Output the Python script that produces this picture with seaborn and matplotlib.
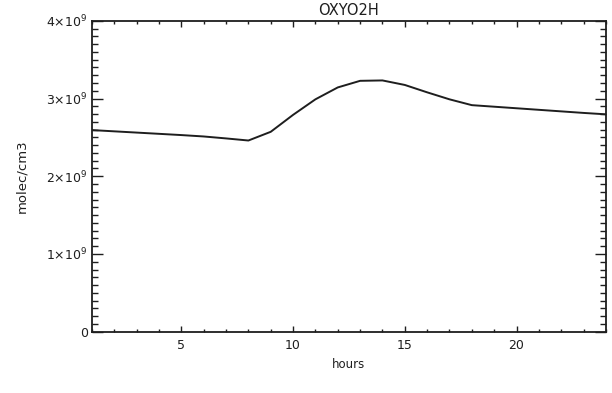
import numpy as np
import pandas as pd
import matplotlib
matplotlib.use("Agg")
import matplotlib.pyplot as plt
from matplotlib.ticker import FixedLocator, MultipleLocator
import seaborn as sns

# Diurnal cycle of OXYO2H concentration (molec/cm3), hourly
hours = [1, 2, 3, 4, 5, 6, 7, 8, 9, 10, 11, 12,
         13, 14, 15, 16, 17, 18, 19, 20, 21, 22, 23, 24]
conc = [2.594e9, 2.578e9, 2.562e9, 2.546e9, 2.530e9, 2.512e9, 2.487e9, 2.460e9,
        2.572e9, 2.790e9, 2.990e9, 3.143e9, 3.228e9, 3.233e9, 3.175e9, 3.080e9,
        2.990e9, 2.915e9, 2.895e9, 2.875e9, 2.855e9, 2.835e9, 2.815e9, 2.797e9]

x_ticks = [5, 10, 15, 20]
y_ticks = [0, 1e9, 2e9, 3e9, 4e9]
y_tick_labels = ["0", r"1$\times$10$^{9}$", r"2$\times$10$^{9}$",
                 r"3$\times$10$^{9}$", r"4$\times$10$^{9}$"]

sns.set_style("ticks")
plt.rcParams["font.family"] = ["DejaVu Sans"]
plt.rcParams["mathtext.fontset"] = "dejavusans"

ink = "#1e1e1e"
df = pd.DataFrame({"hours": hours, "conc": conc})

fig = plt.figure(figsize=(6.12, 3.93), dpi=100)
ax = fig.add_axes([0.1503, 0.156, 0.8397, 0.791])

sns.lineplot(data=df, x="hours", y="conc", ax=ax, color=ink,
             linewidth=1.4, legend=False)

ax.set_xlim(1, 24)
ax.set_ylim(0, 4e9)

ax.xaxis.set_major_locator(FixedLocator(x_ticks))
ax.xaxis.set_minor_locator(MultipleLocator(1))
ax.yaxis.set_major_locator(FixedLocator(y_ticks))
ax.yaxis.set_minor_locator(MultipleLocator(1e8))
ax.set_yticklabels(y_tick_labels)

ax.tick_params(axis="x", which="major", direction="in", length=4.5, width=1.0,
               top=True, bottom=True, labelsize=9, pad=5, colors=ink)
ax.tick_params(axis="x", which="minor", direction="in", length=2.2, width=1.0,
               top=True, bottom=True, colors=ink)
ax.tick_params(axis="y", which="major", direction="in", length=8, width=1.0,
               left=True, right=True, labelsize=9, pad=3, colors=ink)
ax.tick_params(axis="y", which="minor", direction="in", length=4, width=1.0,
               left=True, right=True, colors=ink)

for side in ["left", "right", "top", "bottom"]:
    ax.spines[side].set_visible(True)
    ax.spines[side].set_linewidth(1.3)
    ax.spines[side].set_color(ink)

ax.set_xlabel("hours", fontsize=8.5, color=ink)
ax.xaxis.set_label_coords(0.5, -0.085)
ax.set_ylabel("molec/cm3", fontsize=9.5, color=ink)
ax.yaxis.set_label_coords(-0.124, 0.5)
ax.set_title("OXYO2H", fontsize=10.5, pad=4.5, color=ink)

fig.savefig("out.png", dpi=100, facecolor="white")
